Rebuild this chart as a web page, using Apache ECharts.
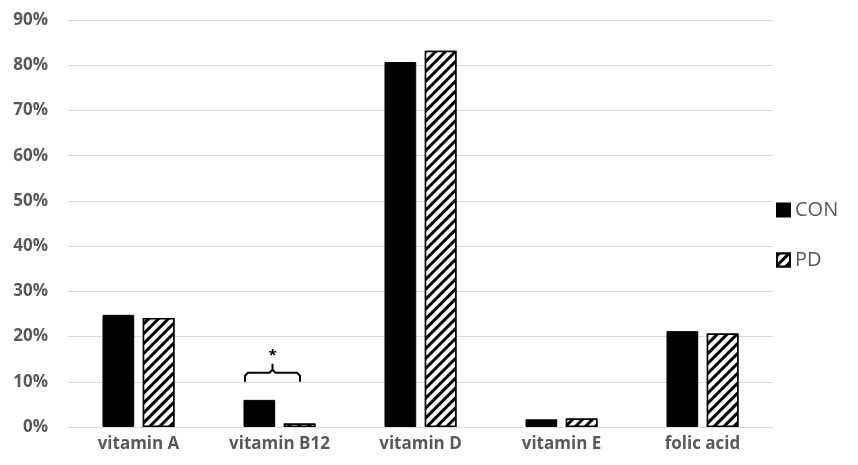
<!DOCTYPE html>
<html>
<head>
<meta charset="utf-8">
<script src="https://cdn.jsdelivr.net/npm/echarts@6/dist/echarts.min.js"></script>
<style>html,body{margin:0;padding:0;background:#fff}#c{width:858px;height:465px}</style>
</head>
<body>
<div id="c"></div>
<script>
var categories = ['vitamin A', 'vitamin B12', 'vitamin D', 'vitamin E', 'folic acid'];
var conValues = [0.248, 0.060, 0.807, 0.017, 0.212];
var pdValues = [0.241, 0.008, 0.832, 0.019, 0.207];
var yTicks = [0, 0.1, 0.2, 0.3, 0.4, 0.5, 0.6, 0.7, 0.8, 0.9];
// significance bracket: category index, bracket level, leg bottom
var bracket = [[1, 0.12, 0.1]];

var chart = echarts.init(document.getElementById('c'));
var font = 'Open Sans';
chart.setOption({
  animation: false,
  grid: { left: 68, right: 85, top: 20, bottom: 38 },
  legend: {
    orient: 'vertical', left: 771, top: 195, itemGap: 30, icon: 'rect', itemGap: 30,
    itemWidth: 13, itemHeight: 13,
    textStyle: { fontFamily: font, fontSize: 20, color: '#595959' },
    data: ['CON', 'PD']
  },
  xAxis: {
    type: 'category', data: categories,
    axisLine: { lineStyle: { color: '#d9d9d9' } },
    axisTick: { show: false },
    axisLabel: { fontFamily: font, fontWeight: 'bold', fontSize: 17, color: '#595959', margin: 9 }
  },
  yAxis: {
    type: 'value', min: yTicks[0], max: yTicks[yTicks.length - 1], interval: 0.1,
    axisLine: { show: false }, axisTick: { show: false },
    splitLine: { lineStyle: { color: '#d9d9d9' } },
    axisLabel: {
      fontFamily: font, fontWeight: 'bold', fontSize: 17, color: '#595959', margin: 20,
      formatter: function (v) { return Math.round(v * 100) + '%'; }
    }
  },
  series: [
    {
      name: 'CON', type: 'bar', data: conValues, barWidth: '22.5%', barGap: '27%',
      itemStyle: { color: '#000', borderColor: '#000', borderWidth: 1 }
    },
    {
      name: 'PD', type: 'bar', data: pdValues, barWidth: '22.5%',
      itemStyle: {
        color: '#fff', borderColor: '#000', borderWidth: 1.5,
        decal: { symbol: 'rect', color: '#000', backgroundColor: '#fff', dashArrayX: [1, 0], dashArrayY: [3, 4], rotation: -Math.PI / 4 }
      }
    },
    {
      name: 'sig', type: 'custom', data: bracket, silent: true, z: 5,
      renderItem: function (params, api) {
        var idx = api.value(0);
        var top = api.coord([idx, api.value(1)]);
        var bot = api.coord([idx, api.value(2)]);
        var band = api.size([1, 0])[0];
        var half = band * 0.195;
        var cx = top[0] - 7;
        var y = top[1];
        return {
          type: 'group',
          children: [
            { type: 'polyline', shape: { points: [[cx - half, bot[1]], [cx - half, y + 3], [cx - half + 3, y], [cx - 3, y], [cx, y - 3], [cx + 3, y], [cx + half - 3, y], [cx + half, y + 3], [cx + half, bot[1]]] }, style: { stroke: '#000', lineWidth: 2, fill: null, lineJoin: 'round' } },
            { type: 'line', shape: { x1: cx, y1: y - 3, x2: cx, y2: y - 9 }, style: { stroke: '#000', lineWidth: 2 } },
            { type: 'text', style: { text: '*', x: cx, y: y - 9, align: 'center', verticalAlign: 'bottom', font: 'bold 15px ' + font, fill: '#000' } }
          ]
        };
      }
    }
  ]
});
</script>
</body>
</html>
